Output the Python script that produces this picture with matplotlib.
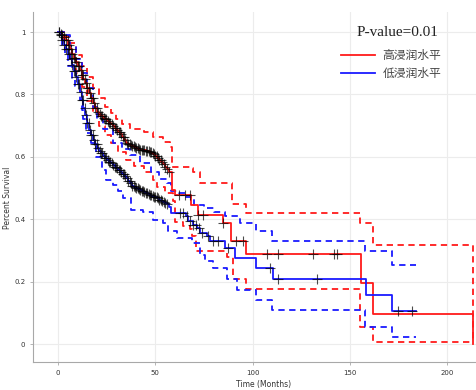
import numpy as np
import matplotlib
matplotlib.use("Agg")
import matplotlib.pyplot as plt

# ---------------------------------------------------------------------------
# Kaplan-Meier curves (months, survival)
# ---------------------------------------------------------------------------
high_t = [0, 1, 2, 3, 4, 5, 6, 7, 8, 9, 10, 11, 12, 13, 14, 15, 16, 17, 18, 19, 20,
          21, 22, 23, 24, 25, 26, 27, 28, 29, 30, 31, 32, 33, 34, 35, 36, 37, 38, 39,
          40, 41, 42, 43, 44, 45, 46, 47, 48, 49, 50, 51, 52, 53, 54, 55, 56, 57,
          58.5, 60, 68.5, 72, 85, 89, 96.6, 155.8, 162, 213.6]
high_s = [1.0, 0.995, 0.99, 0.983, 0.975, 0.96, 0.945, 0.93, 0.917, 0.903, 0.89, 0.877,
          0.863, 0.85, 0.837, 0.822, 0.806, 0.79, 0.773, 0.757, 0.745, 0.737, 0.731,
          0.726, 0.72, 0.715, 0.71, 0.705, 0.699, 0.692, 0.686, 0.68, 0.673, 0.664,
          0.654, 0.645, 0.641, 0.638, 0.635, 0.632, 0.628, 0.625, 0.623, 0.622, 0.621,
          0.62, 0.619, 0.617, 0.613, 0.608, 0.603, 0.597, 0.59, 0.583, 0.576, 0.568,
          0.56, 0.552, 0.495, 0.478, 0.446, 0.414, 0.388, 0.329, 0.29, 0.195, 0.097, 0.0]

high_up_t = [0, 3, 6, 9, 12, 15, 18, 21, 24, 27, 30, 33, 37, 44, 49, 54, 57.5, 58.5,
             68, 69.5, 73, 89.5, 96.6, 155.5, 162, 213.6]
high_up_s = [1.0, 0.985, 0.965, 0.925, 0.89, 0.855, 0.82, 0.79, 0.76, 0.74, 0.72, 0.705,
             0.69, 0.68, 0.665, 0.648, 0.632, 0.568, 0.565, 0.55, 0.516, 0.45, 0.42,
             0.388, 0.318, 0.01]

high_lo_t = [0, 3, 6, 9, 12, 15, 18, 21, 24, 27, 31, 35, 39, 44, 49, 51, 55, 59, 60,
             64, 68, 69, 71, 87, 90, 96.6, 155.5, 162, 213.6]
high_lo_s = [1.0, 0.96, 0.915, 0.87, 0.825, 0.78, 0.74, 0.7, 0.67, 0.645, 0.615, 0.59,
             0.57, 0.55, 0.527, 0.505, 0.485, 0.46, 0.39, 0.38, 0.37, 0.345, 0.3, 0.28,
             0.21, 0.177, 0.056, 0.008, 0.008]

low_t = [0, 1, 2, 3, 4, 5, 6, 7, 8, 9, 10, 11, 12, 13, 14, 15, 16, 17, 18, 19, 20, 21,
         22, 23, 24, 25, 26, 27, 28, 29, 30, 31, 32, 33, 34, 35, 36, 37, 38, 39, 40,
         41, 42, 43, 44, 45, 46, 47, 48, 49, 50, 51, 52, 53, 54, 55, 56, 57, 58.3, 66,
         67, 69.5, 71.2, 73, 76.4, 78, 85.8, 91, 102, 110.5, 158.5, 172, 184]
low_s = [1.0, 0.99, 0.975, 0.96, 0.946, 0.93, 0.913, 0.896, 0.876, 0.856, 0.833, 0.808,
         0.783, 0.758, 0.733, 0.707, 0.687, 0.671, 0.655, 0.642, 0.629, 0.619, 0.611,
         0.603, 0.595, 0.589, 0.584, 0.579, 0.574, 0.569, 0.563, 0.557, 0.551, 0.545,
         0.539, 0.532, 0.524, 0.516, 0.508, 0.503, 0.5, 0.497, 0.494, 0.491, 0.488,
         0.485, 0.482, 0.479, 0.476, 0.473, 0.47, 0.467, 0.463, 0.46, 0.457, 0.452,
         0.448, 0.44, 0.42, 0.409, 0.393, 0.382, 0.372, 0.356, 0.345, 0.329, 0.308,
         0.276, 0.245, 0.208, 0.158, 0.105, 0.105]

low_up_t = [0, 3, 6, 9, 12, 15, 18, 20, 23, 28, 33, 37, 42, 48, 52, 56, 58.3, 62, 66,
            70, 75, 80, 86, 93.6, 102, 110, 158, 172, 184]
low_up_s = [1.0, 0.99, 0.955, 0.915, 0.87, 0.82, 0.76, 0.72, 0.69, 0.645, 0.625, 0.605,
            0.58, 0.55, 0.53, 0.515, 0.49, 0.485, 0.47, 0.447, 0.435, 0.425, 0.41, 0.388,
            0.361, 0.329, 0.297, 0.254, 0.254]

low_lo_t = [0, 2, 3.5, 5, 7, 8.5, 11, 12, 13, 14.5, 17, 19.7, 22.3, 24.8, 28.2, 31,
            33.4, 37.7, 43.7, 48.9, 54, 56.6, 61, 68.7, 73, 75.5, 79.8, 86.7, 91.9, 102,
            110, 158, 172, 184]
low_lo_s = [1.0, 0.96, 0.93, 0.89, 0.85, 0.826, 0.783, 0.75, 0.72, 0.676, 0.644, 0.6,
            0.559, 0.527, 0.51, 0.49, 0.468, 0.43, 0.425, 0.398, 0.388, 0.361, 0.34,
            0.324, 0.286, 0.265, 0.244, 0.21, 0.174, 0.142, 0.11, 0.056, 0.024, 0.024]

# censored observations (months)
high_cens = [0.3, 1.2, 2.2, 3.1, 4.0, 4.8, 5.6, 6.4, 7.2, 8.0, 8.7, 9.4, 10.1, 10.8,
             11.5, 12.2, 12.9, 13.6, 14.3, 15.0, 15.7, 16.4, 17.1, 17.8, 18.5, 19.2,
             19.9, 20.6, 21.3, 22.0, 22.7, 23.4, 24.1, 24.8, 25.5, 26.2, 26.9, 27.6,
             28.3, 29.0, 29.7, 30.4, 31.1, 31.8, 32.5, 33.2, 33.9, 34.6, 35.3, 36.0,
             36.7, 37.4, 38.1, 38.8, 39.5, 40.2, 40.9, 41.6, 42.3, 43.0, 43.7, 44.4,
             45.1, 45.8, 46.5, 47.2, 47.9, 48.6, 49.3, 50.0, 50.7, 51.4, 52.1, 52.8,
             53.5, 54.2, 55.0, 56.0, 57.0, 62, 65, 68, 72, 74.5, 85, 91.5, 95, 107.5,
             113, 131, 142, 143.5]
low_cens = [0.3, 1.2, 2.2, 3.1, 4.0, 4.8, 5.6, 6.4, 7.2, 8.0, 8.7, 9.4, 10.1, 10.8,
            11.5, 12.2, 12.9, 13.6, 14.3, 15.0, 15.7, 16.4, 17.1, 17.8, 18.5, 19.2,
            19.9, 20.6, 21.3, 22.0, 22.7, 23.4, 24.1, 24.8, 25.5, 26.2, 26.9, 27.6,
            28.3, 29.0, 29.7, 30.4, 31.1, 31.8, 32.5, 33.2, 33.9, 34.6, 35.3, 36.0,
            36.7, 37.4, 38.1, 38.8, 39.5, 40.2, 40.9, 41.6, 42.3, 43.0, 43.7, 44.4,
            45.1, 45.8, 46.5, 47.2, 47.9, 48.6, 49.3, 50.0, 50.7, 51.4, 52.1, 52.8,
            53.5, 54.2, 55.0, 56.0, 62.6, 64, 66.5, 68, 69.5, 71, 72.5, 74, 77, 79.6,
            82, 87.5, 109, 113, 133, 174.8, 182]

labels = ["高浸润水平", "低浸润水平"]
p_text = "P-value=0.01"
x_ticks = [0, 50, 100, 150, 200]
y_ticks = [0, 0.2, 0.4, 0.6, 0.8, 1]


def step_value(t, s, x):
    idx = np.searchsorted(np.asarray(t), np.asarray(x), side="right") - 1
    return np.asarray(s)[idx]


fig = plt.figure(figsize=(4.77, 3.90), dpi=100)
ax = fig.add_axes([0.069, 0.072, 0.931, 0.897])

dash = (0, (3.5, 2.5))
groups = [
    (high_t, high_s, high_up_t, high_up_s, high_lo_t, high_lo_s, high_cens, "#ff1a1a"),
    (low_t, low_s, low_up_t, low_up_s, low_lo_t, low_lo_s, low_cens, "#1a1aff"),
]
handles = []
for t, s, ut, us, lt, ls, cens, col in groups:
    ax.plot(ut, us, drawstyle="steps-post", color=col, lw=1.3, ls=dash, zorder=2)
    ax.plot(lt, ls, drawstyle="steps-post", color=col, lw=1.3, ls=dash, zorder=2)
    h, = ax.plot(t, s, drawstyle="steps-post", color=col, lw=1.3, zorder=3)
    handles.append(h)
    ax.plot(cens, step_value(t, s, cens), ls="none", marker="+", ms=7, mew=0.8,
            color="black", alpha=0.7, zorder=4)

ax.set_xlim(-13, 215.5)
ax.set_ylim(-0.057, 1.064)
ax.set_xticks(x_ticks)
ax.set_xticklabels([str(v) for v in x_ticks])
ax.set_yticks(y_ticks)
ax.set_yticklabels(["0", "0.2", "0.4", "0.6", "0.8", "1"])
ax.grid(True, color="#ececec", lw=0.8, zorder=0)
ax.set_axisbelow(True)
for side in ["top", "right"]:
    ax.spines[side].set_visible(False)
for side in ["left", "bottom"]:
    ax.spines[side].set_color("#a8a8a8")
    ax.spines[side].set_linewidth(0.8)
ax.tick_params(length=2.5, width=0.6, color="#a8a8a8", labelsize=5, labelcolor="#333333",
               pad=3)
ax.set_xlabel("Time (Months)", fontsize=5.5, color="#333333")
ax.set_ylabel("Percent Survival", fontsize=5.5, color="#333333")
ax.xaxis.set_label_coords(0.52, -0.052)
ax.yaxis.set_label_coords(-0.046, 0.47)

fig.text(397 / 477, 1 - 33 / 390, p_text, ha="center", va="center",
         fontsize=11, family="Liberation Serif", color="#222222")
leg = fig.legend(handles, labels, loc="upper left",
                 bbox_to_anchor=(341 / 477, 1 - 49 / 390), frameon=False,
                 prop={"family": ["Noto Sans CJK SC", "DejaVu Sans"], "size": 8.5},
                 handlelength=2.9, handletextpad=0.6, labelspacing=0.45,
                 borderpad=0, borderaxespad=0)
for txt in leg.get_texts():
    txt.set_color("#444444")

fig.savefig("out.png", dpi=100)
